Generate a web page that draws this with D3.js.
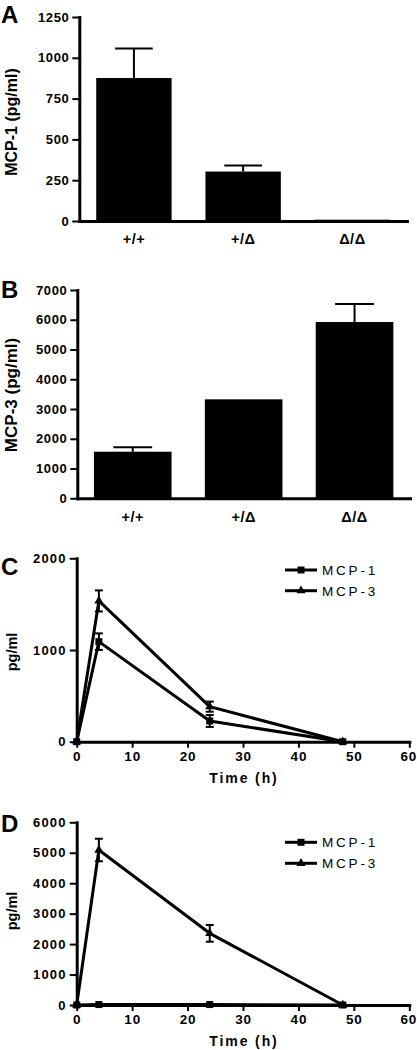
<!DOCTYPE html>
<html><head><meta charset="utf-8">
<script src="https://cdn.jsdelivr.net/npm/d3@7/dist/d3.min.js"></script>
<style>
body{margin:0;background:#fff}
svg text{font-family:"Liberation Sans",Arial,Helvetica,sans-serif}
</style>
</head><body>
<svg id="chart" width="417" height="1050"></svg>
<script>
// ---- Data ----
const genotypes = ["+/+", "+/Δ", "Δ/Δ"];
const mcp1Means = [876, 303, 8];
const mcp1Errs  = [181, 37, 0];
const mcp3Means = [1566, 3326, 5924];
const mcp3Errs  = [147, 0, 605];

const timeHours = [0, 4, 24, 48];
const cMcp1 = [0, 1091, 226, 0];
const cMcp1Err = [0, 90, 65, 0];
const cMcp3 = [0, 1535, 382, 0];
const cMcp3Err = [0, 115, 55, 0];
const dMcp1 = [0, 15, 15, 0];
const dMcp1Err = [0, 0, 0, 0];
const dMcp3 = [0, 5090, 2354, 0];
const dMcp3Err = [0, 370, 275, 0];

const aTicks = [0, 250, 500, 750, 1000, 1250];
const bTicks = [0, 1000, 2000, 3000, 4000, 5000, 6000, 7000];
const cTicks = [0, 1000, 2000];
const dTicks = [0, 1000, 2000, 3000, 4000, 5000, 6000];
const timeTicks = [0, 10, 20, 30, 40, 50, 60];
const seriesNames = ["MCP-1", "MCP-3"];

const svg = d3.select("#chart");
const fmt = d3.format("d");

function styleAxis(g, size, spacing) {
  g.select(".domain").attr("stroke", "#000").attr("stroke-width", 3).attr("stroke-linecap", "square");
  g.selectAll(".tick line").attr("stroke", "#000").attr("stroke-width", 2);
  g.selectAll(".tick text").attr("fill", "#000").attr("font-weight", "bold")
    .attr("font-size", size).attr("letter-spacing", spacing)
    .attr("font-family", "Liberation Sans, Arial, sans-serif");
}

function panelLetter(t, y) {
  svg.append("text").attr("x", 1).attr("y", y).attr("font-size", 24)
    .attr("font-weight", "bold").text(t);
}

function yTitle(t, x, y, size) {
  svg.append("text").attr("transform", `translate(${x},${y}) rotate(-90)`)
    .attr("text-anchor", "middle").attr("font-size", size).attr("font-weight", "bold").text(t);
}

function barPanel(o) {
  const x = d3.scaleBand().domain(genotypes).range([o.x0, o.x1])
    .paddingInner(o.pad).paddingOuter(o.pad / 2);
  const y = d3.scaleLinear().domain([0, o.yMax]).range([o.y0, o.y1]);
  const g = svg.append("g");

  const ya = g.append("g").attr("transform", `translate(${o.x0},0)`)
    .call(d3.axisLeft(y).tickValues(o.ticks).tickFormat(fmt).tickSize(7).tickPadding(3).tickSizeOuter(0));
  styleAxis(ya, 13, 0.6);
  const xa = g.append("g").attr("transform", `translate(0,${o.y0})`)
    .call(d3.axisBottom(x).tickSize(0).tickPadding(o.labelPad).tickSizeOuter(0));
  styleAxis(xa, 14.5, 0.5);

  const data = genotypes.map((k, i) => ({k, v: o.means[i], e: o.errs[i]}));
  const bw = x.bandwidth();
  g.selectAll("rect.bar").data(data).join("rect").attr("class", "bar")
    .attr("x", d => x(d.k)).attr("y", d => y(d.v))
    .attr("width", bw).attr("height", d => y(0) - y(d.v)).attr("fill", "#000");
  const eb = data.filter(d => d.e > 0);
  g.selectAll("line.ev").data(eb).join("line").attr("class", "ev")
    .attr("x1", d => x(d.k) + bw / 2).attr("x2", d => x(d.k) + bw / 2)
    .attr("y1", d => y(d.v)).attr("y2", d => y(d.v + d.e))
    .attr("stroke", "#000").attr("stroke-width", 2);
  g.selectAll("line.ec").data(eb).join("line").attr("class", "ec")
    .attr("x1", d => x(d.k) + bw / 4).attr("x2", d => x(d.k) + bw * 3 / 4)
    .attr("y1", d => y(d.v + d.e)).attr("y2", d => y(d.v + d.e))
    .attr("stroke", "#000").attr("stroke-width", 2);
}

function linePanel(o) {
  const x = d3.scaleLinear().domain([0, 60]).range([76.7, 409.3]);
  const y = d3.scaleLinear().domain([0, o.yMax]).range([o.y0, o.y1]);
  const g = svg.append("g");

  const ya = g.append("g").attr("transform", `translate(${x(0)},0)`)
    .call(d3.axisLeft(y).tickValues(o.ticks).tickFormat(fmt).tickSize(7).tickPadding(3).tickSizeOuter(0));
  styleAxis(ya, 13, 1.2);
  const xa = g.append("g").attr("transform", `translate(0,${o.y0})`)
    .call(d3.axisBottom(x).tickValues(timeTicks).tickFormat(fmt).tickSize(6).tickPadding(3.4).tickSizeOuter(0));
  styleAxis(xa, 13.5, 0.8);
  xa.selectAll(".tick text").filter(d => d === 60).attr("dx", -1);

  svg.append("text").attr("x", (x(0) + x(60)) / 2 + 1).attr("y", o.y0 + 41)
    .attr("text-anchor", "middle").attr("font-size", 14).attr("font-weight", "bold")
    .attr("letter-spacing", 1.9).text("Time (h)");

  const line = d3.line().x(d => x(d.t)).y(d => y(d.v));
  const shapes = [d3.symbolSquare, d3.symbolTriangle];
  const sizes = [49, 36];
  o.series.forEach((s, si) => {
    const pts = timeHours.map((t, i) => ({t, v: s.v[i], e: s.e[i]}));
    g.append("path").datum(pts).attr("d", line).attr("fill", "none")
      .attr("stroke", "#000").attr("stroke-width", 3).attr("stroke-linejoin", "round");
    const ep = pts.filter(d => d.e > 0);
    g.selectAll(null).data(ep).join("line")
      .attr("x1", d => x(d.t)).attr("x2", d => x(d.t))
      .attr("y1", d => y(d.v - d.e)).attr("y2", d => y(d.v + d.e))
      .attr("stroke", "#000").attr("stroke-width", 2);
    [1, -1].forEach(sg => {
      g.selectAll(null).data(ep).join("line")
        .attr("x1", d => x(d.t) - 4).attr("x2", d => x(d.t) + 4)
        .attr("y1", d => y(d.v + sg * d.e)).attr("y2", d => y(d.v + sg * d.e))
        .attr("stroke", "#000").attr("stroke-width", 2);
    });
    g.selectAll(null).data(pts).join("path")
      .attr("transform", d => `translate(${x(d.t)},${y(d.v)})`)
      .attr("d", d3.symbol(shapes[si], sizes[si])).attr("fill", "#000");

    // legend
    const ly = o.legendY[si];
    g.append("line").attr("x1", 285).attr("x2", 317).attr("y1", ly).attr("y2", ly)
      .attr("stroke", "#000").attr("stroke-width", 3);
    g.append("path").attr("transform", `translate(301,${ly})`)
      .attr("d", d3.symbol(shapes[si], sizes[si])).attr("fill", "#000");
    g.append("text").attr("x", 322).attr("y", ly + 4.8).attr("font-size", 13.5)
      .attr("letter-spacing", 2.8).text(seriesNames[si]);
  });
}

// Panel A
barPanel({means: mcp1Means, errs: mcp1Errs, yMax: 1250, ticks: aTicks,
  y0: 221, y1: 17, x0: 79.3, x1: 407, pad: 0.31, labelPad: 12.5});
panelLetter("A", 22.5);
yTitle("MCP-1 (pg/ml)", 17, 122, 16);

// Panel B
barPanel({means: mcp3Means, errs: mcp3Errs, yMax: 7000, ticks: bTicks,
  y0: 498.3, y1: 290, x0: 77.3, x1: 410, pad: 0.30, labelPad: 13.4});
panelLetter("B", 298);
yTitle("MCP-3 (pg/ml)", 17, 395, 17);

// Panel C
linePanel({yMax: 2000, ticks: cTicks, y0: 741.7, y1: 558.3,
  series: [{v: cMcp1, e: cMcp1Err}, {v: cMcp3, e: cMcp3Err}], legendY: [570, 590.7]});
panelLetter("C", 575);
yTitle("pg/ml", 17, 652, 14.5);

// Panel D
linePanel({yMax: 6000, ticks: dTicks, y0: 1005, y1: 822.3,
  series: [{v: dMcp1, e: dMcp1Err}, {v: dMcp3, e: dMcp3Err}], legendY: [842.3, 863.3]});
panelLetter("D", 831.5);
yTitle("pg/ml", 17, 911, 14.5);
</script>
</body></html>
